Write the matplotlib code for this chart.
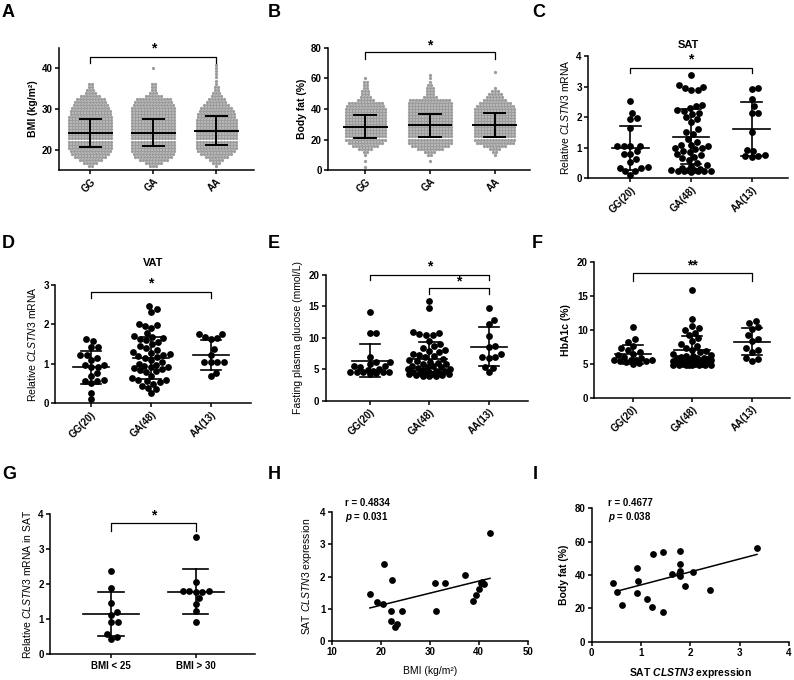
import numpy as np
import matplotlib
matplotlib.use("Agg")
import matplotlib.pyplot as plt

plt.rcParams['font.family'] = ['Liberation Sans', 'DejaVu Sans']
plt.rcParams['mathtext.fontset'] = 'custom'
plt.rcParams['mathtext.rm'] = 'Liberation Sans'
plt.rcParams['mathtext.it'] = 'Liberation Sans:italic'
plt.rcParams['mathtext.bf'] = 'Liberation Sans:bold'
plt.rcParams['mathtext.bfit'] = 'Liberation Sans:italic:bold'

# ---------------- data ----------------
genos = ["GG", "GA", "AA"]
genos_n = ["GG(20)", "GA(48)", "AA(13)"]

# A: BMI, counts of dots per row level (large cohort swarm)
bmi_levels = [16.0, 16.75, 17.5, 18.25, 19.0, 19.75, 20.5, 21.25, 22.0, 22.75, 23.5, 24.25,
              25.0, 25.75, 26.5, 27.25, 28.0, 28.75, 29.5, 30.25, 31.0, 31.75, 32.5, 33.25,
              34.0, 34.75, 35.5, 36.25, 37.0, 37.75, 38.5, 39.25, 40.0, 40.75]
bmi_gg = [2, 5, 8, 11, 13, 14, 15, 15, 15, 15, 15, 15, 15, 15, 15, 15, 15, 14, 14, 13, 12, 11, 10, 7, 4, 3, 2, 2, 0, 0, 0, 0, 0, 0]
bmi_ga = [3, 6, 10, 13, 14, 15, 15, 15, 15, 15, 15, 15, 15, 15, 15, 15, 15, 15, 15, 15, 14, 13, 12, 6, 3, 2, 2, 2, 0, 0, 0, 0, 1, 0]
bmi_aa = [1, 3, 5, 8, 11, 13, 14, 14, 14, 14, 14, 14, 14, 14, 14, 14, 13, 13, 12, 11, 9, 7, 6, 4, 3, 2, 2, 1, 1, 1, 1, 1, 1, 1]
bmi_mean = [24.2, 24.2, 24.7]
bmi_sd = [3.45, 3.4, 3.5]

# B: body fat
fat_levels = [2, 4, 6, 8, 10, 12, 14, 16, 18, 20, 22, 24, 26, 28, 30, 32,
              34, 36, 38, 40, 42, 44, 46, 48, 50, 52, 54, 56, 58, 60, 62, 64]
fat_gg = [1, 0, 1, 0, 1, 2, 5, 9, 12, 14, 14, 14, 14, 14, 14, 14, 14, 14, 14, 14, 13, 12, 6, 4, 3, 3, 2, 2, 2, 1, 0, 0]
fat_ga = [0, 0, 1, 0, 2, 4, 9, 13, 15, 15, 15, 15, 15, 15, 15, 15, 15, 15, 15, 15, 15, 15, 14, 5, 3, 3, 3, 2, 1, 1, 1, 0]
fat_aa = [0, 0, 0, 0, 1, 2, 4, 8, 13, 14, 14, 14, 14, 14, 14, 14, 14, 14, 14, 14, 13, 11, 8, 6, 5, 3, 1, 0, 0, 0, 0, 1]
fat_mean = [28.4, 29.3, 29.5]
fat_sd = [7.7, 7.6, 7.9]

# C: SAT CLSTN3
sat_gg = [2.53, 1.96, 1.94, 2.15, 1.63, 1.07, 1.07, 1.07, 1.06, 0.88, 0.80, 0.80, 0.62,
          0.35, 0.38, 0.35, 0.52, 0.25, 0.25, 0.11]
sat_ga = [3.38, 3.05, 3.0, 2.95, 2.9, 2.88, 2.4, 2.35, 2.3, 2.25, 2.2, 2.15, 2.1, 2.0, 1.95,
          1.85, 1.6, 1.5, 1.45, 1.3, 1.2, 1.1, 1.1, 1.05, 1.0, 1.0, 0.95, 0.9, 0.85, 0.8,
          0.75, 0.7, 0.65, 0.6, 0.5, 0.45, 0.4, 0.35, 0.3, 0.28, 0.27, 0.26, 0.25, 0.25,
          0.25, 0.24, 0.23, 0.22]
sat_aa = [2.92, 2.95, 2.6, 2.35, 2.15, 2.15, 1.5, 0.93, 0.9, 0.75, 0.72, 0.72, 0.69]
sat_mean = [1.0, 1.36, 1.62]
sat_sd = [0.72, 0.9, 0.88]

# D: VAT CLSTN3
vat_gg = [1.62, 1.58, 1.44, 1.42, 1.23, 1.23, 1.14, 1.10, 0.97, 0.97, 0.93, 0.93, 0.76,
          0.68, 0.57, 0.51, 0.57, 0.59, 0.27, 0.10]
vat_ga = [2.48, 2.38, 2.32, 2.0, 1.98, 1.95, 1.9, 1.78, 1.7, 1.68, 1.65, 1.62, 1.6, 1.55,
          1.5, 1.45, 1.4, 1.35, 1.3, 1.28, 1.25, 1.22, 1.2, 1.18, 1.15, 1.1, 1.05, 1.0,
          0.98, 0.95, 0.93, 0.92, 0.9, 0.88, 0.85, 0.82, 0.8, 0.7, 0.65, 0.6, 0.58, 0.57,
          0.55, 0.5, 0.45, 0.4, 0.35, 0.25]
vat_aa = [1.77, 1.77, 1.67, 1.66, 1.62, 1.37, 1.23, 1.06, 1.06, 1.05, 1.05, 0.78, 0.68]
vat_mean = [0.91, 1.15, 1.22]
vat_sd = [0.42, 0.54, 0.38]

# E: fasting plasma glucose
fpg_gg = [14.1, 10.8, 10.8, 7.0, 6.2, 6.1, 5.9, 5.6, 5.5, 5.3, 5.1, 4.9, 4.7, 4.6, 4.5,
          4.5, 4.5, 4.5, 4.4, 4.3]
fpg_ga = [15.8, 14.7, 10.9, 10.7, 10.6, 10.5, 10.4, 9.5, 9.0, 8.7, 8.4, 8.0, 7.9, 7.7, 7.5,
          7.3, 7.1, 6.9, 6.7, 6.5, 6.3, 6.2, 6.0, 5.9, 5.8, 5.6, 5.5, 5.4, 5.3, 5.2, 5.1,
          5.0, 4.9, 4.8, 4.7, 4.6, 4.5, 4.4, 4.4, 4.3, 4.3, 4.2, 4.2, 4.1, 4.1, 4.0, 4.0, 4.0]
fpg_aa = [14.7, 12.9, 12.2, 10.3, 8.7, 8.5, 7.5, 7.0, 7.0, 6.8, 5.4, 5.25, 4.5]
fpg_mean = [6.35, 6.7, 8.6]
fpg_sd = [2.6, 2.6, 3.15]

# F: HbA1c
hba_gg = [10.4, 8.6, 8.3, 7.6, 7.3, 7.0, 6.8, 6.5, 6.3, 6.0, 5.8, 5.6, 5.5, 5.5, 5.5, 5.4,
          5.4, 5.3, 5.1, 5.0]
hba_ga = [15.9, 11.6, 10.6, 10.3, 10.0, 9.6, 9.2, 8.8, 8.4, 8.0, 7.7, 7.4, 7.1, 6.9, 6.7,
          6.5, 6.3, 6.2, 6.1, 6.0, 5.9, 5.8, 5.8, 5.7, 5.7, 5.6, 5.6, 5.5, 5.5, 5.4, 5.4,
          5.3, 5.3, 5.2, 5.2, 5.1, 5.1, 5.0, 5.0, 5.0, 4.9, 4.9, 4.9, 4.9, 4.8, 4.8, 4.8, 4.8]
hba_aa = [11.4, 11.1, 10.4, 10.2, 9.2, 8.7, 8.4, 7.3, 7.1, 6.8, 5.8, 5.7, 5.4]
hba_mean = [6.4, 7.0, 8.3]
hba_sd = [1.4, 2.15, 2.05]

# G: SAT CLSTN3 by BMI group
bmi_groups = ["BMI < 25", "BMI > 30"]
lean = [2.38, 1.88, 1.45, 1.22, 1.12, 0.93, 0.93, 0.58, 0.48, 0.43]
obese = [3.35, 2.05, 1.80, 1.80, 1.80, 1.78, 1.78, 1.60, 1.43, 1.24, 0.93]
grp_mean = [1.14, 1.78]
grp_sd = [0.63, 0.64]

# H: BMI vs SAT expression
h_bmi = [17.8, 19.2, 20.4, 20.7, 22.4, 22.1, 22.1, 22.9, 23.3, 24.3, 31.0, 31.2, 33.2,
         37.2, 38.9, 39.5, 40.1, 40.6, 41.1, 42.3, 40.4]
h_expr = [1.46, 1.22, 1.14, 2.40, 1.90, 0.93, 0.62, 0.45, 0.52, 0.94, 1.80, 0.93, 1.80,
          2.05, 1.25, 1.44, 1.62, 1.82, 1.78, 3.35, 1.80]

# I: SAT expression vs body fat
i_expr = [0.44, 0.51, 0.61, 0.92, 0.93, 0.91, 1.13, 1.23, 1.25, 1.45, 1.45, 1.62, 1.79,
          1.80, 1.80, 1.80, 1.90, 2.06, 2.39, 3.35, 1.78]
i_fat = [35.0, 30.0, 22.0, 44.0, 36.4, 29.0, 25.6, 21.0, 52.6, 54.0, 18.0, 40.6, 39.6,
         46.6, 42.4, 54.2, 33.4, 42.0, 31.2, 56.4, 40.5]

# ---------------- figure ----------------
W, H = 794, 680
fig = plt.figure(figsize=(W / 100, H / 100), dpi=100)


def make_ax(l, r, t, b):
    ax = fig.add_axes([l / W, 1 - b / H, (r - l) / W, (b - t) / H])
    for s in ["top", "right"]:
        ax.spines[s].set_visible(False)
    for s in ["left", "bottom"]:
        ax.spines[s].set_linewidth(1.1)
    ax.tick_params(length=3, width=1.1, labelsize=7, pad=1.5)
    return ax


def bold_ticks(ax):
    for lab in ax.get_xticklabels() + ax.get_yticklabels():
        lab.set_fontweight("bold")


def cat_xticks(ax, labels, rotate=True):
    ax.set_xticks(range(len(labels)))
    if rotate:
        ax.set_xticklabels(labels, rotation=45, ha="right", rotation_mode="anchor")
    else:
        ax.set_xticklabels(labels)
    bold_ticks(ax)


def swarm_x(ax, xc, vals, diam, max_w=22):
    # beeswarm in pixel space; crowded rows are capped at max_w and allowed to overlap
    pts = ax.transData.transform(np.column_stack([np.full(len(vals), xc), vals]))
    ypx = pts[:, 1]
    x0 = pts[0, 0]
    order = np.argsort(ypx)
    px, py = [], []
    off = np.zeros(len(vals))
    grid = np.linspace(-max_w, max_w, 41)
    for i in order:
        y = ypx[i]
        cands = [0.0]
        for a, b in zip(px, py):
            dy = y - b
            if abs(dy) < diam:
                dx = np.sqrt(diam ** 2 - dy ** 2)
                cands += [a + dx, a - dx]
        cands = [c for c in cands if abs(c) <= max_w]
        cands.sort(key=abs)
        best = None
        for c in cands:
            if all((c - a) ** 2 + (y - b) ** 2 >= diam ** 2 - 1e-6 for a, b in zip(px, py)):
                best = c
                break
        if best is None:
            pa, pb = np.array(px), np.array(py)
            d = np.array([np.min(np.hypot(g - pa, y - pb)) for g in grid])
            best = grid[np.argmax(d - 0.03 * np.abs(grid))]
        px.append(best)
        py.append(y)
        off[i] = best
    back = ax.transData.inverted().transform(np.column_stack([x0 + off, ypx]))
    return back[:, 0]


def mean_sd(ax, xc, m, sd, hw=0.3, cw=0.17, lw=1.2):
    ax.plot([xc - hw, xc + hw], [m, m], color="black", lw=lw, zorder=4)
    ax.plot([xc, xc], [m - sd, m + sd], color="black", lw=lw, zorder=4)
    for v in (m - sd, m + sd):
        ax.plot([xc - cw, xc + cw], [v, v], color="black", lw=lw, zorder=4)


def bracket(ax, x1, x2, y, drop, text, ts):
    ax.plot([x1, x1, x2, x2], [y - drop, y, y, y - drop], color="black", lw=0.9, clip_on=False)
    ax.text((x1 + x2) / 2, ts, text, ha="center", va="center", fontsize=10, fontweight="bold")


def letter(x, y, s):
    fig.text(x / W, 1 - y / H, s, fontsize=13, fontweight="bold", ha="left", va="top")


def rows(ax, xc, levels, counts, sp_px):
    a = ax.transData.transform((0, 0))[0]
    b = ax.transData.transform((1, 0))[0]
    sp = sp_px / (b - a)
    xs, ys = [], []
    for lv, n in zip(levels, counts):
        for k in range(n):
            xs.append(xc + (k - (n - 1) / 2) * sp)
            ys.append(lv)
    ax.scatter(xs, ys, s=5.5, color="#9c9c9c", linewidths=0, zorder=2)


# ---- A ----
ax = make_ax(59, 254, 48, 170)
ax.set_xlim(-0.5, 2.6)
ax.set_ylim(15, 45)
ax.set_yticks([20, 30, 40])
cat_xticks(ax, genos)
bold_ticks(ax)
for i, c in enumerate([bmi_gg, bmi_ga, bmi_aa]):
    rows(ax, i, bmi_levels, c, 3.0)
    mean_sd(ax, i, bmi_mean[i], bmi_sd[i], hw=0.34, cw=0.17, lw=1.4)
bracket(ax, 0, 2, 42.7, 1.3, "*", 45.0)
ax.set_ylabel("BMI (kg/m²)", fontsize=7.5, fontweight="bold", labelpad=3)
letter(2, 4, "A")

# ---- B ----
ax = make_ax(328, 530, 48, 170)
ax.set_xlim(-0.58, 2.55)
ax.set_ylim(0, 80)
ax.set_yticks([0, 20, 40, 60, 80])
cat_xticks(ax, genos)
bold_ticks(ax)
for i, c in enumerate([fat_gg, fat_ga, fat_aa]):
    rows(ax, i, fat_levels, c, 3.0)
    mean_sd(ax, i, fat_mean[i], fat_sd[i], hw=0.33, cw=0.17, lw=1.4)
bracket(ax, 0, 2, 77.2, 4.6, "*", 81.5)
ax.set_ylabel("Body fat (%)", fontsize=7.5, fontweight="bold", labelpad=3)
letter(268, 4, "B")

DOT = 24
DIAM = 6.6

# ---- C ----
ax = make_ax(588, 788, 56, 178.3)
ax.set_xlim(-0.7, 2.6)
ax.set_ylim(0, 4)
ax.set_yticks([0, 1, 2, 3, 4])
cat_xticks(ax, genos_n)
bold_ticks(ax)
for i, v in enumerate([sat_gg, sat_ga, sat_aa]):
    ax.scatter(swarm_x(ax, i, v, DIAM, 23), v, s=DOT, color="black", linewidths=0, zorder=3)
    mean_sd(ax, i, sat_mean[i], sat_sd[i])
bracket(ax, 0, 2, 3.62, 0.17, "*", 3.9)
ax.set_ylabel("Relative $\\mathit{CLSTN3}$ mRNA", fontsize=7.5, labelpad=4)
ax.set_title("SAT", fontsize=8, fontweight="bold", pad=6)
letter(532, 4, "C")

# ---- D ----
ax = make_ax(55, 251, 285, 403.3)
ax.set_xlim(-0.6, 2.67)
ax.set_ylim(0, 3)
ax.set_yticks([0, 1, 2, 3])
cat_xticks(ax, genos_n)
bold_ticks(ax)
for i, v in enumerate([vat_gg, vat_ga, vat_aa]):
    ax.scatter(swarm_x(ax, i, v, DIAM, 22), v, s=DOT, color="black", linewidths=0, zorder=3)
    mean_sd(ax, i, vat_mean[i], vat_sd[i])
bracket(ax, 0, 2, 2.83, 0.17, "*", 3.03)
ax.set_ylabel("Relative $\\mathit{CLSTN3}$ mRNA", fontsize=7.5, labelpad=4)
ax.set_title("VAT", fontsize=8, fontweight="bold", pad=14)
letter(2, 235, "D")

# ---- E ----
ax = make_ax(325.7, 528, 275, 400.7)
ax.set_xlim(-0.74, 2.66)
ax.set_ylim(0, 20)
ax.set_yticks([0, 5, 10, 15, 20])
cat_xticks(ax, genos_n)
bold_ticks(ax)
for i, v in enumerate([fpg_gg, fpg_ga, fpg_aa]):
    ax.scatter(swarm_x(ax, i, v, DIAM, 21), v, s=DOT, color="black", linewidths=0, zorder=3)
    mean_sd(ax, i, fpg_mean[i], fpg_sd[i])
bracket(ax, 0, 2, 19.95, 0.8, "*", 21.3)
bracket(ax, 1, 2, 17.9, 1.0, "*", 19.0)
ax.set_ylabel("Fasting plasma glucose (mmol/L)", fontsize=7.5, labelpad=4)
letter(268, 235, "E")

# ---- F ----
ax = make_ax(594, 790, 262.3, 397.7)
ax.set_xlim(-0.65, 2.64)
ax.set_ylim(0, 20)
ax.set_yticks([0, 5, 10, 15, 20])
cat_xticks(ax, genos_n)
bold_ticks(ax)
for i, v in enumerate([hba_gg, hba_ga, hba_aa]):
    ax.scatter(swarm_x(ax, i, v, DIAM, 19), v, s=DOT, color="black", linewidths=0, zorder=3)
    mean_sd(ax, i, hba_mean[i], hba_sd[i])
bracket(ax, 0, 2, 18.4, 1.2, "**", 19.6)
ax.set_ylabel("HbA1c (%)", fontsize=7.5, fontweight="bold", labelpad=4)
letter(532, 235, "F")

# ---- G ----
ax = make_ax(50, 255, 514, 654.3)
ax.set_xlim(-0.72, 1.7)
ax.set_ylim(0, 4)
ax.set_yticks([0, 1, 2, 3, 4])
cat_xticks(ax, bmi_groups, rotate=False)
bold_ticks(ax)
for i, v in enumerate([lean, obese]):
    ax.scatter(swarm_x(ax, i, v, DIAM, 24), v, s=DOT, color="black", linewidths=0, zorder=3)
    mean_sd(ax, i, grp_mean[i], grp_sd[i], hw=0.33, cw=0.15)
bracket(ax, 0, 1, 3.73, 0.21, "*", 3.97)
ax.set_ylabel("Relative $\\mathit{CLSTN3}$ mRNA in SAT", fontsize=7.5, labelpad=4)
letter(2, 466, "G")

# ---- H ----
ax = make_ax(331.7, 527.7, 512.3, 641)
ax.set_xlim(10, 50)
ax.set_ylim(0, 4)
ax.set_xticks([10, 20, 30, 40, 50])
ax.set_yticks([0, 1, 2, 3, 4])
bold_ticks(ax)
ax.scatter(h_bmi, h_expr, s=DOT, color="black", linewidths=0, zorder=3)
k, b0 = np.polyfit(h_bmi, h_expr, 1)
xl = np.array([min(h_bmi), max(h_bmi)])
ax.plot(xl, k * xl + b0, color="black", lw=1.1)
ax.text(12.7, 4.29, "r = 0.4834", fontsize=7, fontweight="bold", va="center", clip_on=False)
ax.text(12.7, 3.86, "$\\mathbfit{p}$ = 0.031", fontsize=7, fontweight="bold", va="center")
ax.set_xlabel("BMI (kg/m²)", fontsize=7.5, labelpad=6)
ax.set_ylabel("SAT $\\mathit{CLSTN3}$ expression", fontsize=7.5, labelpad=4)
letter(268, 466, "H")

# ---- I ----
ax = make_ax(591.7, 789, 508.3, 641.7)
ax.set_xlim(0, 4)
ax.set_ylim(0, 80)
ax.set_xticks([0, 1, 2, 3, 4])
ax.set_yticks([0, 20, 40, 60, 80])
bold_ticks(ax)
ax.scatter(i_expr, i_fat, s=DOT, color="black", linewidths=0, zorder=3)
k, b0 = np.polyfit(i_expr, i_fat, 1)
xl = np.array([0.5, max(i_expr)])
ax.plot(xl, k * xl + b0, color="black", lw=1.1)
ax.text(0.33, 83, "r = 0.4677", fontsize=7, fontweight="bold", va="center", clip_on=False)
ax.text(0.33, 74.7, "$\\mathbfit{p}$ = 0.038", fontsize=7, fontweight="bold", va="center")
ax.set_xlabel("SAT $\\mathbfit{CLSTN3}$ expression", fontsize=7.5, fontweight="bold", labelpad=6)
ax.set_ylabel("Body fat (%)", fontsize=7.5, fontweight="bold", labelpad=4)
letter(533, 466, "I")

fig.savefig("out.png", dpi=100)
